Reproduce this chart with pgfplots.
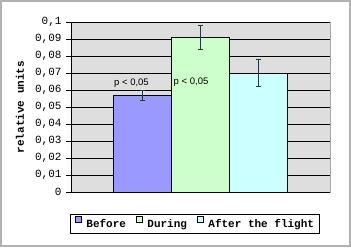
\documentclass[border=0pt]{standalone}
\usepackage{pgfplots}
\pgfplotsset{compat=1.18}
\usepackage{fontspec}
\setmainfont{Liberation Mono}
\newfontfamily\arialf{Liberation Sans}
\definecolor{bgray}{HTML}{DEDEDE}
\definecolor{cbefore}{HTML}{9999FF}
\definecolor{cduring}{HTML}{CCFFCC}
\definecolor{cafter}{HTML}{CCFFFF}
\definecolor{errc}{HTML}{1F3A44}
\begin{document}
\begin{tikzpicture}[x=1pt,y=1pt]
\fill[white] (0,0) rectangle (351,247);
\draw[gray!60, line width=2pt] (1,1) rectangle (350,246);
\begin{axis}[
  at={(71pt,55pt)}, anchor=south west,
  scale only axis, width=259pt, height=170pt,
  xmin=-1, xmax=1, ymin=0, ymax=0.1,
  xtick=\empty,
  ytick={0,0.01,0.02,0.03,0.04,0.05,0.06,0.07,0.08,0.09,0.1},
  yticklabels={{0},{0,01},{0,02},{0,03},{0,04},{0,05},{0,06},{0,07},{0,08},{0,09},{0,1}},
  yticklabel style={font=\fontsize{11}{12}\selectfont, xshift=-1pt},
  ybar=0pt, bar width=58pt,
  axis y line*=left, axis x line*=bottom,
  axis line style={black, line width=0.6pt, -},
  axis background/.style={fill=bgray, draw=gray!70},
  ymajorgrids, grid style={black, line width=0.5pt},
  tick align=outside, major tick length=5pt,
  tick style={black, line width=0.6pt},
  every axis y label/.style={at={(axis description cs:-0.197,0.5)}, rotate=90, anchor=center},
  ylabel={\bfseries relative units},
  ylabel style={font=\fontsize{11}{12}\selectfont\bfseries},
  legend image code/.code={\draw[#1, draw=black, line width=0.4pt] (0pt,2pt) rectangle (6pt,8pt);},
  legend style={at={(axis description cs:0.477,-0.185)}, anchor=center,
    legend columns=3, draw=black, line width=0.6pt,
    font=\fontsize{11}{12}\selectfont\bfseries, inner xsep=5pt, inner ysep=2.5pt,
    nodes={inner xsep=0pt, inner ysep=1pt},
    /tikz/every odd column/.append style={column sep=5pt},
    /tikz/every even column/.append style={column sep=10pt}},
  error bars/error bar style={errc, line width=0.7pt},
  error bars/error mark options={rotate=90, mark size=2.8pt, errc, line width=0.7pt},
]
\addplot[fill=cbefore, draw=black, line width=0.5pt, error bars/.cd, y dir=both, y explicit]
  coordinates {(0,0.057) +- (0,0.003)};
\addplot[fill=cduring, draw=black, line width=0.5pt, error bars/.cd, y dir=both, y explicit]
  coordinates {(0,0.091) +- (0,0.007)};
\addplot[fill=cafter, draw=black, line width=0.5pt, error bars/.cd, y dir=both, y explicit]
  coordinates {(0,0.070) +- (0,0.008)};
\legend{Before,During,After the flight}
\node[font=\arialf\fontsize{9.5}{10}\selectfont] at (axis cs:-0.533,0.0641) {p < 0,05};
\node[font=\arialf\fontsize{9.5}{10}\selectfont] at (axis cs:-0.073,0.0649) {p < 0,05};
\end{axis}
\end{tikzpicture}
\end{document}
